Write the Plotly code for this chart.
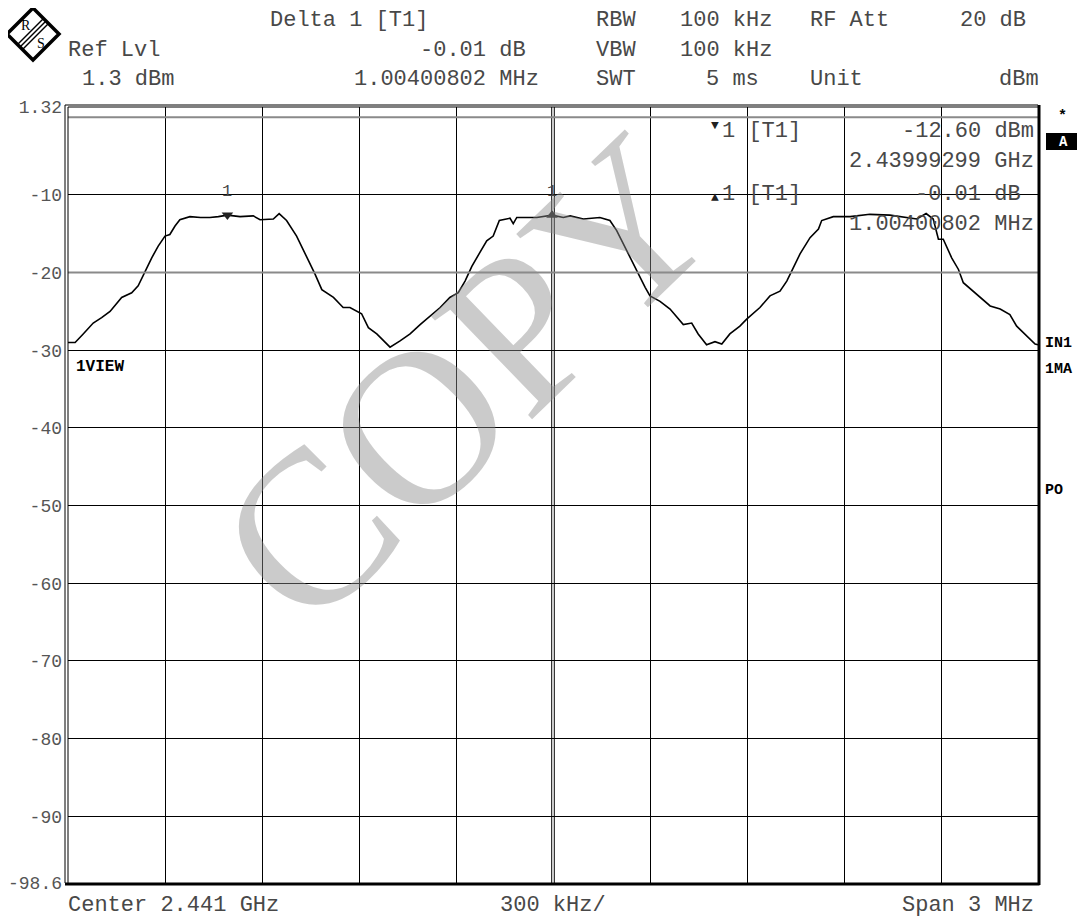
import plotly.graph_objects as go

# ---------------- data ----------------
freq_mhz = [2439.500, 2439.522, 2439.547, 2439.578, 2439.604, 2439.630, 2439.666, 2439.697,
            2439.717, 2439.738, 2439.759, 2439.779, 2439.800, 2439.815, 2439.831, 2439.846,
            2439.877, 2439.910, 2439.939, 2439.965, 2439.993, 2440.032, 2440.073, 2440.094,
            2440.135, 2440.153, 2440.176, 2440.207, 2440.238, 2440.264, 2440.285, 2440.321,
            2440.351, 2440.372, 2440.408, 2440.429, 2440.455, 2440.496, 2440.527, 2440.558,
            2440.589, 2440.620, 2440.651, 2440.681, 2440.707, 2440.728, 2440.749, 2440.774,
            2440.795, 2440.815, 2440.834, 2440.867, 2440.877, 2440.888, 2440.950, 2440.997,
            2441.032, 2441.053, 2441.094, 2441.145, 2441.176, 2441.197, 2441.228, 2441.259,
            2441.285, 2441.300, 2441.331, 2441.362, 2441.377, 2441.403, 2441.429, 2441.449,
            2441.475, 2441.501, 2441.522, 2441.547, 2441.578, 2441.599, 2441.640, 2441.671,
            2441.702, 2441.723, 2441.743, 2441.764, 2441.795, 2441.821, 2441.831, 2441.867,
            2441.919, 2441.980, 2442.042, 2442.094, 2442.125, 2442.154, 2442.176, 2442.192,
            2442.207, 2442.233, 2442.254, 2442.269, 2442.310, 2442.352, 2442.383, 2442.413,
            2442.434, 2442.465, 2442.491, 2442.500]
level_dbm = [-29.0, -29.0, -27.9, -26.5, -25.8, -25.0, -23.2, -22.6,
             -21.7, -19.8, -18.1, -16.6, -15.3, -15.1, -14.0, -13.2,
             -12.8, -12.9, -12.9, -12.8, -12.6, -12.8, -12.7, -13.2,
             -13.1, -12.4, -13.3, -15.3, -17.9, -20.2, -22.2, -23.2,
             -24.5, -24.5, -25.3, -27.1, -27.9, -29.6, -28.8, -27.9,
             -26.7, -25.6, -24.5, -23.2, -22.6, -21.1, -19.2, -17.4,
             -15.9, -15.3, -13.3, -13.0, -13.7, -12.9, -12.9, -12.6,
             -12.9, -12.7, -13.1, -12.9, -13.3, -14.6, -17.2, -19.8,
             -21.9, -23.0, -23.7, -24.7, -25.4, -26.7, -26.5, -27.9,
             -29.3, -28.9, -29.2, -27.9, -26.9, -26.0, -24.5, -23.0,
             -22.4, -21.1, -19.4, -17.6, -15.5, -14.4, -13.3, -12.8,
             -12.8, -12.5, -12.6, -12.9, -13.1, -12.4, -13.1, -15.7,
             -15.7, -18.1, -19.6, -21.3, -22.8, -24.3, -24.7, -25.4,
             -26.9, -28.2, -29.2, -29.3]

marker_freq = [2439.99299]
marker_level = [-12.60]
delta_freq = [2440.99700]
delta_level = [-12.61]

y_tick_vals = [1.32, -10, -20, -30, -40, -50, -60, -70, -80, -90, -98.6]
y_tick_text = ["1.32", "-10", "-20", "-30", "-40", "-50", "-60", "-70", "-80", "-90", "-98.6"]
x_grid_vals = [2439.5, 2439.8, 2440.1, 2440.4, 2440.7, 2441.3, 2441.6, 2441.9, 2442.2, 2442.5]

# ---------------- layout helpers ----------------
W, H = 1085, 919          # target picture size
OFF = 8                   # default page margin of the html body
L, R, T, B = 68, 1038, 107, 883
PW, PH = R - L, B - T


def px(x):
    return (x - L) / PW


def py(y):
    return (B - y) / PH


MONO = "Liberation Mono"
TXT = "#484848"

fig = go.Figure()
fig.add_trace(go.Scatter(x=freq_mhz, y=level_dbm, mode="lines",
                         line=dict(color="black", width=1.6), hoverinfo="skip",
                         showlegend=False))
fig.add_trace(go.Scatter(x=marker_freq, y=marker_level, mode="markers",
                         marker=dict(symbol="triangle-down", size=10, color="#222"),
                         showlegend=False, hoverinfo="skip"))
fig.add_trace(go.Scatter(x=delta_freq, y=delta_level, mode="markers",
                         marker=dict(symbol="triangle-up", size=10, color="#222"),
                         showlegend=False, hoverinfo="skip"))

shapes = []
# double centre line
for xv in (2440.996, 2441.004):
    shapes.append(dict(type="line", xref="x", yref="paper", x0=xv, x1=xv, y0=0, y1=1,
                       line=dict(color="black", width=1), layer="between"))
# gray display lines
shapes.append(dict(type="line", xref="paper", yref="y", x0=0, x1=1, y0=-20, y1=-20,
                   line=dict(color="#8a8a8a", width=2), layer="above"))
shapes.append(dict(type="line", xref="paper", yref="y", x0=0, x1=1, y0=0, y1=0,
                   line=dict(color="#8a8a8a", width=2), layer="above"))
# frame
shapes.append(dict(type="line", xref="paper", yref="paper", x0=0, x1=1, y0=1, y1=1,
                   line=dict(color="black", width=1)))
shapes.append(dict(type="line", xref="paper", yref="paper", x0=px(L - 3), x1=px(L - 3),
                   y0=0, y1=py(T - 2), line=dict(color="black", width=1)))
shapes.append(dict(type="line", xref="paper", yref="paper", x0=px(L - 3), x1=1,
                   y0=py(T - 2), y1=py(T - 2), line=dict(color="black", width=1)))
shapes.append(dict(type="line", xref="paper", yref="paper", x0=0, x1=0, y0=0, y1=1,
                   line=dict(color="black", width=1)))
shapes.append(dict(type="line", xref="paper", yref="paper", x0=px(L - 3), x1=px(R + 1.5),
                   y0=py(B + 1), y1=py(B + 1), line=dict(color="black", width=3)))
shapes.append(dict(type="line", xref="paper", yref="paper", x0=px(R + 1), x1=px(R + 1),
                   y0=py(B + 2), y1=py(T - 2), line=dict(color="black", width=3)))
# "A" box
shapes.append(dict(type="rect", xref="paper", yref="paper", x0=px(1046), x1=px(1080),
                   y0=py(150), y1=py(133), fillcolor="black", line=dict(width=0)))
# logo diamond
cx, cy, hs = 33, 34, 26
path = "M {} {} L {} {} L {} {} L {} {} Z".format(
    px(cx), py(cy - hs), px(cx + hs), py(cy), px(cx), py(cy + hs), px(cx - hs), py(cy))
shapes.append(dict(type="path", xref="paper", yref="paper", path=path,
                   line=dict(color="black", width=3.5)))
for off in (-2.5, 0, 2.5):
    shapes.append(dict(type="line", xref="paper", yref="paper",
                       x0=px(cx - 13 + off), y0=py(cy + 13 + off),
                       x1=px(cx + 13 + off), y1=py(cy - 13 + off),
                       line=dict(color="black", width=1.5)))

ann = []


def text(s, x, y, anchor="left", size=22, color=TXT, bold=False, family=MONO, angle=0):
    ann.append(dict(text=s, x=px(x), y=py(y), xref="paper", yref="paper",
                    xanchor=anchor, yanchor="middle", showarrow=False, textangle=angle,
                    font=dict(family=family, size=size, color=color,
                              weight="bold" if bold else "normal")))


# header
ROW1, ROW2, ROW3 = 21, 50, 80
text("Delta 1 [T1]", 268, ROW1)
text("Ref Lvl", 66, ROW2)
text("-0.01 dB ", 541, ROW2, "right")
text("1.3 dBm", 80, ROW3)
text("1.00400802 MHz", 541, ROW3, "right")
text("RBW", 594, ROW1)
text("100 kHz", 678, ROW1)
text("RF Att", 808, ROW1)
text("20 dB", 1028, ROW1, "right")
text("VBW", 594, ROW2)
text("100 kHz", 678, ROW2)
text("SWT", 594, ROW3)
text("5 ms", 761, ROW3, "right")
text("Unit", 808, ROW3)
text("dBm", 1041, ROW3, "right")
# footer
text("Center 2.441 GHz", 66, 906)
text("300 kHz/", 553, 906, "center")
text("Span 3 MHz", 1036, 906, "right")
# marker labels on the trace
for mf, ml in ((marker_freq[0], marker_level[0]), (delta_freq[0], delta_level[0])):
    ann.append(dict(text="1", x=mf, y=ml, xref="x", yref="y", showarrow=False,
                    yshift=24, font=dict(family=MONO, size=17, color=TXT)))
# marker info block
text("\u25BC", 715, 125, "center", size=13, color="#222")
text("1 [T1]", 720, 131)
text("-12.60 dBm", 1036, 131, "right")
text("2.43999299 GHz", 1036, 162, "right")
text("\u25B2", 715, 197, "center", size=13, color="#222")
text("1 [T1]", 720, 194)
text("-0.01 dB ", 1036, 194, "right")
text("1.00400802 MHz", 1036, 224, "right")
# side labels
text("*", 1062, 117, "center", size=15, color="black", bold=True)
text("A", 1063, 142, "center", size=14, color="white", bold=True)
text("IN1", 1043, 343, size=15, color="black", bold=True)
text("1MA", 1043, 369, size=15, color="black", bold=True)
text("PO", 1043, 490, size=15, color="black", bold=True)
text("1VIEW", 74, 367, size=16, color="black", bold=True)
# logo letters
text("R", 26, 26, "center", size=14, color="black", family="Liberation Serif")
text("S", 41, 43, "center", size=14, color="black", family="Liberation Serif")
# watermark
text("COPY", 466, 380, "center", size=220, color="rgba(140,140,140,0.45)",
     family="Liberation Serif", angle=-44)

fig.update_layout(
    width=W - OFF, height=H - OFF,
    margin=dict(l=L - OFF, r=W - R, t=T - OFF, b=H - B, pad=0, autoexpand=False),
    paper_bgcolor="white", plot_bgcolor="white",
    shapes=shapes, annotations=ann,
    xaxis=dict(range=[2439.5, 2442.5], tickvals=x_grid_vals, showticklabels=False,
               showgrid=True, gridcolor="black", gridwidth=1, zeroline=False,
               showline=False, ticks="", fixedrange=True, automargin=False),
    yaxis=dict(range=[-98.6, 1.32], tickvals=y_tick_vals, ticktext=y_tick_text,
               showgrid=True, gridcolor="black", gridwidth=1, zeroline=False,
               showline=False, ticks="", ticklabelstandoff=5, automargin=False,
               tickfont=dict(family=MONO, size=18, color="#555555"), fixedrange=True),
)

fig.write_html("out.html")
